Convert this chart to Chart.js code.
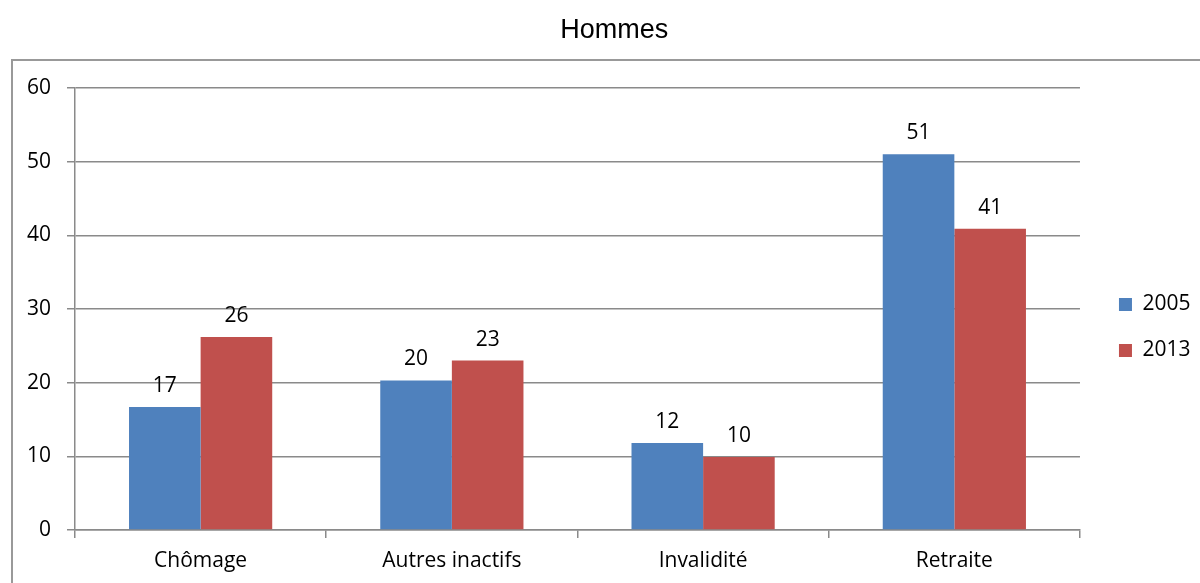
<!DOCTYPE html>
<html lang="fr">
<head>
<meta charset="utf-8">
<title>Hommes</title>
<script src="https://cdn.jsdelivr.net/npm/chart.js@4.4.0/dist/chart.umd.min.js"></script>
<style>
    html, body { margin: 0; padding: 0; background: #fff; }
</style>
</head>
<body>
<canvas id="grafico" width="1200" height="583"></canvas>
<script>
// Datos
const categorias = ['Chômage', 'Autres inactifs', 'Invalidité', 'Retraite'];
const series = ['2005', '2013'];
const valores2005 = [16.7, 20.3, 11.8, 51.0];
const valores2013 = [26.2, 23.0, 9.9, 40.9];
const ejeY = { min: 0, max: 60, paso: 10 };

const colorGris = '#8a8a8a';
const fuente = "'Open Sans', sans-serif";

// Marco exterior del gráfico (solo se ven el borde izquierdo y el superior)
const marco = {
    id: 'marco',
    beforeDraw(chart) {
        const ctx = chart.ctx;
        ctx.save();
        ctx.fillStyle = '#fff';
        ctx.fillRect(0, 0, chart.width, chart.height);
        ctx.strokeStyle = '#999';
        ctx.lineWidth = 2;
        ctx.strokeRect(12, 60, 1400, 800);
        ctx.restore();
    }
};

// Mover título y leyenda a su sitio
const ajustes = {
    id: 'ajustes',
    afterLayout(chart) {
        const t = chart.titleBlock;
        t.left += 21; t.right += 21;
        const l = chart.legend;
        l.left += 14; l.right += 14;
        l.top += 36; l.bottom += 36;
    }
};

// Etiquetas de valor encima de las barras
const etiquetas = {
    id: 'etiquetas',
    afterDatasetsDraw(chart) {
        const ctx = chart.ctx;
        ctx.save();
        ctx.font = "21px " + fuente;
        ctx.fillStyle = '#000';
        ctx.textAlign = 'center';
        ctx.textBaseline = 'alphabetic';
        chart.data.datasets.forEach((ds, i) => {
            chart.getDatasetMeta(i).data.forEach((barra, j) => {
                ctx.fillText(Math.round(ds.data[j]), barra.x, barra.y - 15);
            });
        });
        ctx.restore();
    }
};

new Chart(document.getElementById('grafico'), {
    type: 'bar',
    data: {
        labels: categorias,
        datasets: [
            { label: series[0], data: valores2005, backgroundColor: '#4F81BD' },
            { label: series[1], data: valores2013, backgroundColor: '#C0504D' }
        ]
    },
    options: {
        responsive: false,
        animation: false,
        layout: { padding: { left: 0, right: 13.5, top: 0, bottom: 0 } },
        datasets: { bar: { barPercentage: 1, categoryPercentage: 0.57 } },
        scales: {
            x: {
                afterFit: (s) => { s.height = 53; },
                grid: { drawOnChartArea: false, color: colorGris, lineWidth: 1.5, tickLength: 8, offset: true },
                border: { color: colorGris, width: 1.5 },
                ticks: { color: '#000', padding: 10, font: { family: fuente, size: 21 } }
            },
            y: {
                min: ejeY.min,
                max: ejeY.max,
                afterFit: (s) => { s.width = 75; },
                grid: { color: colorGris, lineWidth: 1.5, tickLength: 8 },
                border: { color: colorGris, width: 1.5 },
                ticks: { stepSize: ejeY.paso, color: '#000', padding: 16, font: { family: fuente, size: 21 } }
            }
        },
        plugins: {
            title: {
                display: true,
                text: 'Hommes',
                color: '#000',
                font: { family: "'Liberation Sans', Arial, sans-serif", size: 27, weight: 'normal' },
                padding: { top: 14, bottom: 41.6 }
            },
            legend: {
                position: 'right',
                labels: {
                    boxWidth: 13,
                    boxHeight: 13,
                    padding: 25,
                    color: '#000',
                    font: { family: fuente, size: 21 }
                }
            },
            tooltip: { enabled: false }
        }
    },
    plugins: [marco, ajustes, etiquetas]
});
</script>
</body>
</html>
